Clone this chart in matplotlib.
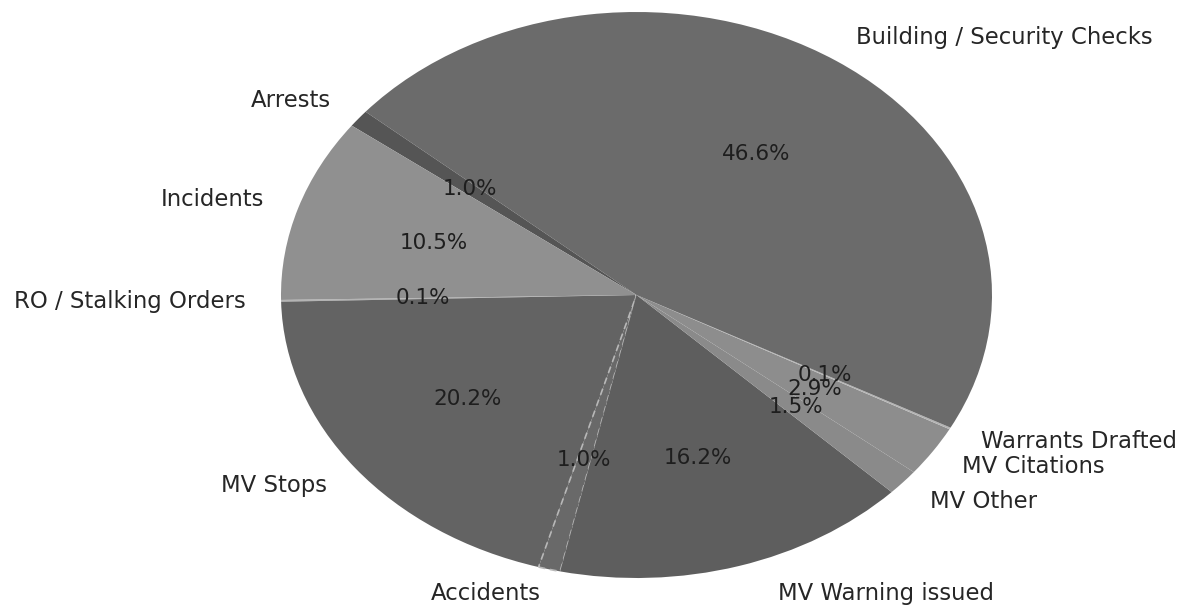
import matplotlib
matplotlib.use("Agg")
import matplotlib.pyplot as plt

labels = ["RO / Stalking Orders", "MV Stops", "Accidents", "MV Warning issued",
          "MV Other", "MV Citations", "Warrants Drafted",
          "Building / Security Checks", "Arrests", "Incidents"]
values = [0.1, 20.2, 1.0, 16.2, 1.5, 2.9, 0.1, 46.6, 1.0, 10.5]
colors = ["#b4b4b4", "#636363", "#696969", "#5e5e5e", "#8a8a8a", "#8d8d8d",
          "#b4b4b4", "#6b6b6b", "#555555", "#909090"]

plt.rcParams["font.family"] = ["DejaVu Sans"]

fig = plt.figure(figsize=(11.88, 6.05), dpi=100)
ax = fig.add_axes([0, 0, 1, 1])
wedges, texts, autotexts = ax.pie(
    values, labels=labels, colors=colors, autopct="%1.1f%%",
    startangle=181, counterclock=True,
    textprops=dict(fontsize=16.4, color="#262626"))

for at in autotexts:
    at.set_fontsize(15.5)
    at.set_color("#1e1e1e")

# Accidents slice drawn with light dashed edges
acc = wedges[labels.index("Accidents")]
acc.set_edgecolor("#b8b8b8")
acc.set_linestyle((0, (4, 3)))
acc.set_linewidth(1.2)

# nudge the MV Warning label to the right as in the reference
t = texts[labels.index("MV Warning issued")]
x, y = t.get_position()
t.set_position((x + 0.08, y))

# keep the Accidents label fully inside the figure
t = texts[labels.index("Accidents")]
x, y = t.get_position()
t.set_position((x, y + 0.012))

ax.set_aspect("auto")
cx, cy = 636.5, 295.0
rx, ry = 355.5, 283.0
W, H = 1188, 605
ax.set_xlim(-cx / rx, (W - cx) / rx)
ax.set_ylim(-(H - cy) / ry, cy / ry)
ax.axis("off")

fig.savefig("out.png", dpi=100, facecolor="white")
